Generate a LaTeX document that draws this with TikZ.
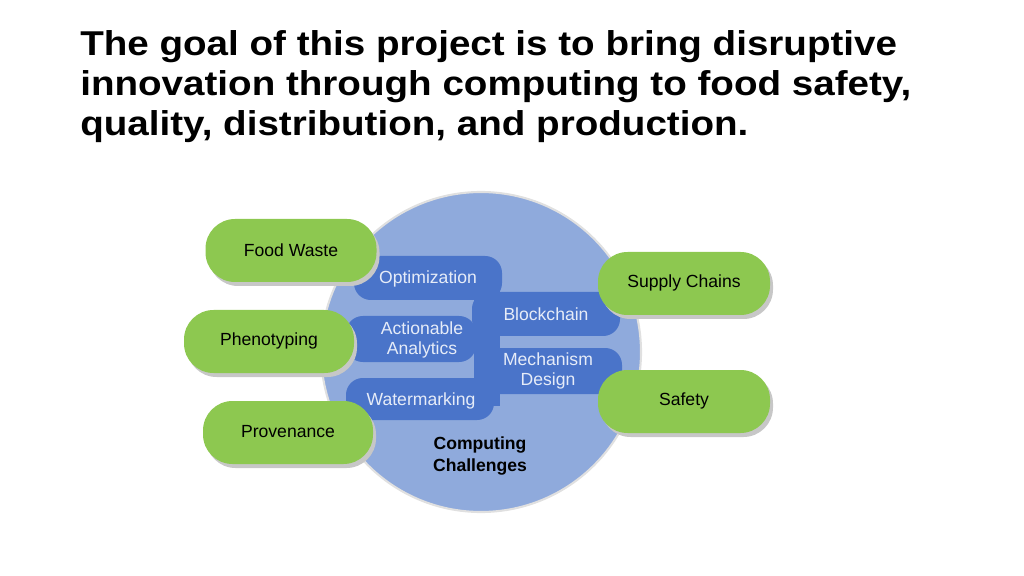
\documentclass[tikz,border=0pt]{standalone}
\usepackage{fontspec}
\setmainfont{Liberation Sans}
\begin{document}
\begin{tikzpicture}[x=0.025cm,y=-0.025cm,
  pill/.style={fill=pillgreen,rounded corners=21pt,draw=none},
  shad/.style={fill=black!22,rounded corners=21pt,draw=none},
  bluebox/.style={fill=boxblue,rounded corners=12pt,draw=none},
  btext/.style={text=btxt,font=\fontsize{12.5}{14.5}\selectfont,align=center}]
\definecolor{pillgreen}{HTML}{8DC850}
\definecolor{boxblue}{HTML}{4A74C9}
\definecolor{circblue}{HTML}{8FAADC}
\definecolor{btxt}{HTML}{E6ECF8}
\useasboundingbox (0,0) rectangle (1024,576);
\node[anchor=north west,align=left,font=\bfseries\fontsize{24.5}{28.5}\selectfont,inner sep=0] (title) at (80,30)
 {\scalebox{1.12}[1]{The goal of this project is to bring disruptive}\\\scalebox{1.12}[1]{innovation through computing to food safety,}\\\scalebox{1.12}[1]{quality, distribution, and production.}};
\node[circle,fill=circblue,draw=black!12,line width=1.5pt,minimum size=320*0.025cm] (circ) at (481,352) {};
% blue boxes
\fill[boxblue] (474,276) rectangle (500,406);
\draw[bluebox] (354,256) rectangle (502,300);
\draw[bluebox] (472,292) rectangle (620,336);
\draw[bluebox] (346,316) rectangle (476,362);
\draw[bluebox] (474,348) rectangle (622,394);
\draw[bluebox] (346,378) rectangle (494,420);
\node[btext] (opt) at (428,279) {Optimization};
\node[btext] (blk) at (546,314) {Blockchain};
\node[btext] (act) at (422,340) {Actionable\\Analytics};
\node[btext] (mech) at (548,371) {Mechanism\\Design};
\node[btext] (wat) at (421,401) {Watermarking};
\node[font=\bfseries\fontsize{12.5}{15.5}\selectfont,align=center] (cc) at (480,456) {Computing\\Challenges};
% pills
\foreach \x/\y/\w/\t/\n in {291/250/171/Food Waste/fw, 269/341/170/Phenotyping/ph, 288/432/170/Provenance/pv, 684/283/172/Supply Chains/sc, 684/401/172/Safety/sf}{
  \fill[shad] (\x-\w/2+3,\y-31+4) rectangle (\x+\w/2+3,\y+32+4);
  \fill[pill] (\x-\w/2,\y-31) rectangle (\x+\w/2,\y+32);
  \node[font=\fontsize{12.5}{14}\selectfont] (\n) at (\x,\y) {\t};
}
\end{tikzpicture}
\end{document}
